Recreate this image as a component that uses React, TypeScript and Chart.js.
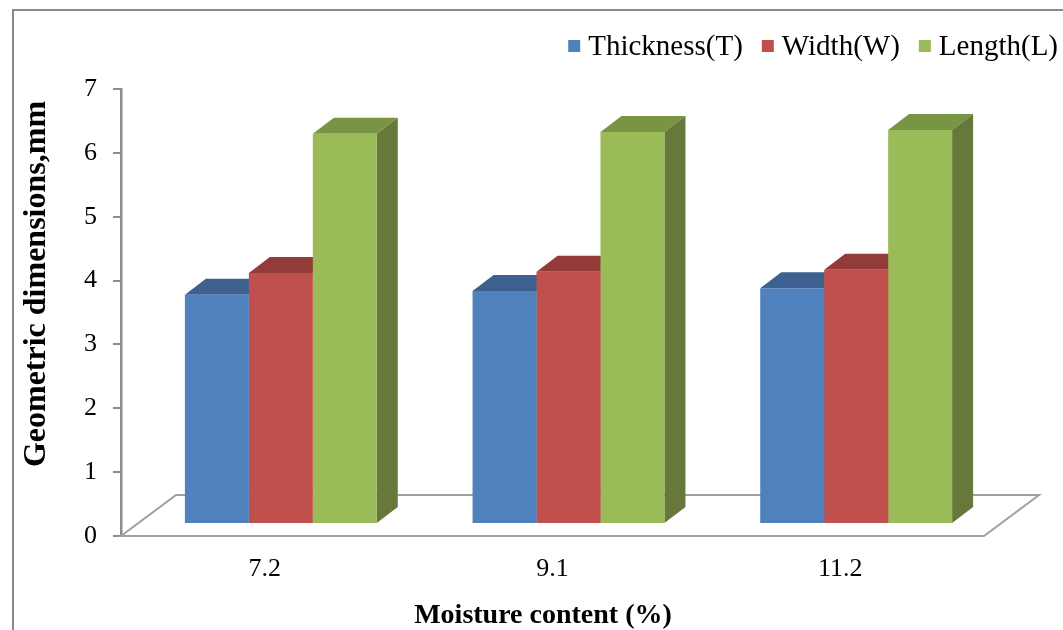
import React, { useEffect, useRef } from "react";
import { Chart, registerables } from "chart.js";

Chart.register(...registerables);

// Moisture content levels (%) on the category axis
const categories = ["7.2", "9.1", "11.2"];

// Geometric dimensions (mm) for each moisture level
const thicknessValues = [3.59, 3.65, 3.69];
const widthValues = [3.93, 3.95, 3.98];
const lengthValues = [6.11, 6.14, 6.17];

const seriesNames = ["Thickness(T)", "Width(W)", "Length(L)"];
const yTickValues = [0, 1, 2, 3, 4, 5, 6, 7];

const xTitle = "Moisture content (%)";
const yTitle = "Geometric dimensions,mm";

// Face shades for each series: front, top, side
const frontColors = ["#4F81BD", "#C0504D", "#9BBB59"];
const topColors = ["#3D618E", "#933B39", "#7A9445"];
const sideColors = ["#34547C", "#7E322F", "#66793A"];

const FONT = "'Liberation Serif', 'Times New Roman', serif";

// Oblique projection used for the floor and the bar depth
const FLOOR_DX = 55;
const FLOOR_DY = 41;
const BAR_SHIFT_X = 16;
const BAR_SHIFT_Y = 12;
const BAR_DX = 21;
const BAR_DY = 16;

const framePlugin = {
  id: "frame",
  beforeDraw(chart: any) {
    const { ctx, width, height } = chart;
    ctx.save();
    ctx.fillStyle = "#ffffff";
    ctx.fillRect(0, 0, width, height);
    ctx.strokeStyle = "#8a8a8a";
    ctx.lineWidth = 2;
    ctx.strokeRect(13, 10, width + 20, height + 20);
    ctx.restore();
  },
};

const threeDPlugin = {
  id: "threeD",
  beforeDatasetsDraw(chart: any) {
    const { ctx, chartArea: a } = chart;
    // floor of the plot
    ctx.save();
    ctx.beginPath();
    ctx.moveTo(a.left, a.bottom);
    ctx.lineTo(a.right, a.bottom);
    ctx.lineTo(a.right + FLOOR_DX, a.bottom - FLOOR_DY);
    ctx.lineTo(a.left + FLOOR_DX, a.bottom - FLOOR_DY);
    ctx.closePath();
    ctx.fillStyle = "#ffffff";
    ctx.fill();
    ctx.strokeStyle = "#a0a0a0";
    ctx.lineWidth = 2;
    ctx.lineJoin = "miter";
    ctx.stroke();
    ctx.restore();

    // bars stand in the middle of the floor depth
    ctx.save();
    ctx.translate(BAR_SHIFT_X, -BAR_SHIFT_Y);
    chart.data.datasets.forEach((_ds: any, i: number) => {
      const meta = chart.getDatasetMeta(i);
      if (meta.hidden) return;
      meta.data.forEach((bar: any) => {
        const { x, y, base, width } = bar.getProps(["x", "y", "base", "width"], true);
        const x0 = x - width / 2;
        const x1 = x + width / 2;
        // top face
        ctx.beginPath();
        ctx.moveTo(x0, y);
        ctx.lineTo(x1, y);
        ctx.lineTo(x1 + BAR_DX, y - BAR_DY);
        ctx.lineTo(x0 + BAR_DX, y - BAR_DY);
        ctx.closePath();
        ctx.fillStyle = topColors[i];
        ctx.fill();
        // side face
        ctx.beginPath();
        ctx.moveTo(x1, y);
        ctx.lineTo(x1 + BAR_DX, y - BAR_DY);
        ctx.lineTo(x1 + BAR_DX, base - BAR_DY);
        ctx.lineTo(x1, base);
        ctx.closePath();
        ctx.fillStyle = sideColors[i];
        ctx.fill();
      });
    });
  },
  afterDatasetsDraw(chart: any) {
    chart.ctx.restore();
  },
};

const legendPlugin = {
  id: "legendRow",
  afterDraw(chart: any) {
    const { ctx } = chart;
    const fontSize = 29;
    const box = 12;
    const boxGap = 8;
    const itemGap = 19;
    const right = 1058;
    const cy = 46;
    ctx.save();
    ctx.font = `${fontSize}px ${FONT}`;
    ctx.textBaseline = "middle";
    ctx.textAlign = "left";
    const items = chart.data.datasets.map((d: any, i: number) => ({
      label: d.label as string,
      color: frontColors[i],
      w: ctx.measureText(d.label).width,
    }));
    let total = 0;
    items.forEach((it: any, i: number) => {
      total += box + boxGap + it.w + (i < items.length - 1 ? itemGap : 0);
    });
    let x = right - total;
    items.forEach((it: any) => {
      ctx.fillStyle = it.color;
      ctx.fillRect(x, cy - box / 2, box, box);
      x += box + boxGap;
      ctx.fillStyle = "#000000";
      ctx.fillText(it.label, x, cy + 1);
      x += it.w + itemGap;
    });
    ctx.restore();
  },
};

const axisTitlesPlugin = {
  id: "axisTitles",
  afterDraw(chart: any) {
    const { ctx } = chart;
    ctx.save();
    ctx.fillStyle = "#000000";
    ctx.textAlign = "center";
    ctx.textBaseline = "middle";
    ctx.font = `bold 28px ${FONT}`;
    ctx.fillText(xTitle, 543, 616);
    ctx.translate(37, 284);
    ctx.rotate(-Math.PI / 2);
    ctx.font = `bold 32px ${FONT}`;
    ctx.fillText(yTitle, 0, 0);
    ctx.restore();
  },
};

export default function App() {
  const ref = useRef<HTMLCanvasElement>(null);

  useEffect(() => {
    document.body.style.margin = "0";
    const seriesValues = [thicknessValues, widthValues, lengthValues];
    const chart = new Chart(ref.current as HTMLCanvasElement, {
      type: "bar",
      data: {
        labels: categories,
        datasets: seriesNames.map((name, i) => ({
          label: name,
          data: seriesValues[i],
          backgroundColor: frontColors[i],
          borderWidth: 0,
          categoryPercentage: 0.667,
          barPercentage: 1,
        })),
      },
      options: {
        animation: false,
        responsive: false,
        devicePixelRatio: 1,
        layout: { padding: { top: 89, right: 79, bottom: 0, left: 0 } },
        plugins: {
          legend: { display: false },
          tooltip: { enabled: false },
        },
        scales: {
          x: {
            grid: { display: false, drawTicks: false },
            border: { display: false },
            ticks: {
              color: "#000000",
              font: { family: FONT, size: 26 },
              padding: 18,
            },
            afterFit: (s: any) => {
              s.height = 94;
            },
          },
          y: {
            min: 0,
            max: 7,
            afterBuildTicks: (s: any) => {
              s.ticks = yTickValues.map((v) => ({ value: v }));
            },
            grid: {
              drawOnChartArea: false,
              drawTicks: true,
              tickLength: 8,
              color: "#8c8c8c",
              lineWidth: 2,
            },
            border: { display: true, color: "#8c8c8c", width: 2.5 },
            ticks: {
              color: "#000000",
              font: { family: FONT, size: 26 },
              padding: 16,
            },
            afterFit: (s: any) => {
              s.width = 121;
            },
          },
        },
      },
      plugins: [framePlugin, threeDPlugin, legendPlugin, axisTitlesPlugin],
    });
    return () => chart.destroy();
  }, []);

  return (
    <div style={{ width: 1063, height: 630 }}>
      <canvas
        ref={ref}
        width={1063}
        height={630}
        style={{ display: "block", width: "1063px", height: "630px" }}
      />
    </div>
  );
}
